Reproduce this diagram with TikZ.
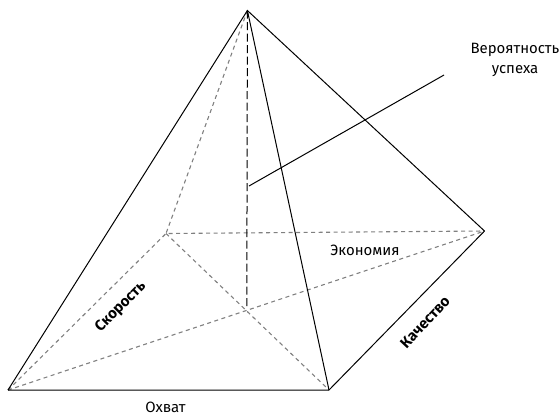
\documentclass[tikz,border=0pt]{standalone}
\usepackage{fontspec}
\setmainfont{Fira Sans}
\begin{document}
\begin{tikzpicture}[x=1bp,y=-1bp,
  edge/.style={black,line width=1bp},
  hidden/.style={black!50,line width=1.1bp,dash pattern=on 4bp off 3.5bp},
  axis/.style={black,line width=1bp,dash pattern=on 8bp off 3.5bp},
  lbl/.style={font=\fontsize{15}{20.5}\selectfont,inner sep=0pt,align=center},
  blbl/.style={font=\fontsize{15}{17}\selectfont\bfseries,inner sep=0pt}]
\useasboundingbox (0,0) rectangle (560,417);
\coordinate (A) at (247.4,10.5);
\coordinate (BL) at (8,390);
\coordinate (BR) at (329,390);
\coordinate (R) at (484.5,231);
\coordinate (K) at (166,233.5);
\coordinate (C) at (246.8,308.5);
\coordinate (L0) at (249,186);
\coordinate (L1) at (444,75);
% hidden edges
\draw[hidden] (A) -- (K);
\draw[hidden] (BL) -- (K) -- (R);
\draw[hidden] (BL) -- (R);
\draw[hidden] (K) -- (BR);
% axis
\draw[axis] (A) -- (C);
% visible edges
\draw[edge] (BL) -- (BR) -- (R);
\draw[edge] (BL) -- (A) -- (R);
\draw[edge] (A) -- (BR);
\draw[edge] (L0) -- (L1);
% labels
\node[lbl] (p) at (515,59.7) {Вероятность\\успеха};
\node[lbl,anchor=base] (e) at (365,255) {Экономия};
\node[lbl,anchor=base] (o) at (165.5,412.5) {Охват};
\node[blbl,rotate=45] (s) at (121,307) {Скорость};
\node[blbl,rotate=47] (q) at (425,322) {Качество};
\end{tikzpicture}
\end{document}
